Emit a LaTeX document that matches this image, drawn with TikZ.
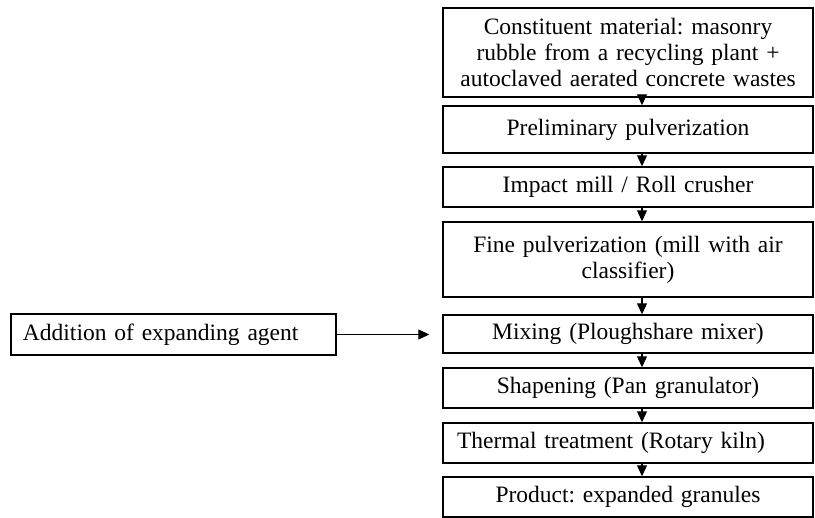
\documentclass[tikz,border=0pt]{standalone}
\usepackage{fontspec}
\setmainfont{Liberation Serif}
\usetikzlibrary{arrows.meta}
\frenchspacing
\begin{document}
\begin{tikzpicture}[x=1pt,y=-1pt,
  box/.style={draw, line width=1.4pt, minimum width=370pt, text width=362pt, inner xsep=4pt, inner ysep=0pt, align=center, font=\fontsize{23.5}{26}\selectfont},
  sidebox/.style={draw, line width=1.4pt, minimum width=325pt, text width=301pt, inner xsep=12pt, inner ysep=0pt, align=left, font=\fontsize{23.5}{26}\selectfont},
  arr/.style={line width=1.1pt, -{Triangle[length=11pt,width=10pt]}}]
\useasboundingbox (0,0) rectangle (815,518);
\node[box, minimum height=89pt] (b1) at (628,52.5) {Constituent material: masonry\\rubble from a recycling plant +\\autoclaved aerated concrete wastes};
\node[box, minimum height=47pt] (b2) at (628,129.5) {Preliminary pulverization};
\node[box, minimum height=40pt] (b3) at (628,187) {Impact mill / Roll crusher};
\node[box, minimum height=75pt] (b4) at (628,259.5) {Fine pulverization (mill with air\\classifier)};
\node[box, minimum height=38pt] (b5) at (628,334) {Mixing (Ploughshare mixer)};
\node[box, minimum height=40pt] (b6) at (628,388) {Shapening (Pan granulator)};
\node[box, minimum height=40pt] (b7) at (628,443) {Thermal treatment (Rotary kiln)\rule{34pt}{0pt}};
\node[box, minimum height=40pt] (b8) at (628,497) {Product: expanded granules};
\node[sidebox, minimum height=41pt] (add) at (173.5,334.5) {Addition of expanding agent};
\coordinate (ax) at (642,0);
\foreach \a/\b in {b1/b2,b2/b3,b3/b4,b4/b5,b5/b6,b6/b7,b7/b8}
  \draw[arr] (\a.south -| ax) -- (\b.north -| ax);
\draw[arr, shorten >=13pt] (add.east) -- (add.east -| b5.west);
\end{tikzpicture}
\end{document}
